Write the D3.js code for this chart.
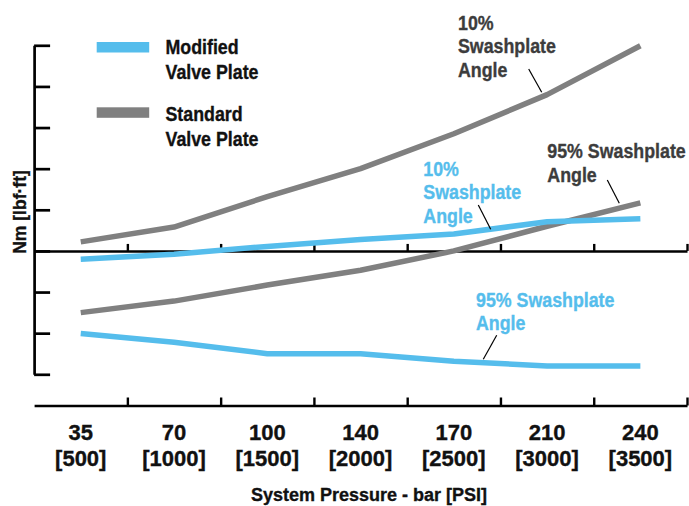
<!DOCTYPE html>
<html>
<head>
<meta charset="utf-8">
<script src="https://cdn.jsdelivr.net/npm/d3@7"></script>
<style>
  html, body { margin: 0; padding: 0; background: #fff; }
  svg { display: block; }
  text { font-family: "Liberation Sans", Arial, Helvetica, sans-serif; font-weight: bold; stroke-width: 0.35px; }
</style>
</head>
<body>
<div id="chart"></div>
<script>
// ---- data ----
const categories = ["35", "70", "100", "140", "170", "210", "240"];
const psiLabels = ["[500]", "[1000]", "[1500]", "[2000]", "[2500]", "[3000]", "[3500]"];
const modified10 = [-0.20, -0.08, 0.11, 0.28, 0.41, 0.71, 0.78];
const modified95 = [-2.01, -2.22, -2.50, -2.50, -2.68, -2.80, -2.80];
const standard10 = [0.22, 0.58, 1.32, 2.00, 2.85, 3.80, 4.99];
const standard95 = [-1.50, -1.22, -0.83, -0.47, 0.00, 0.60, 1.17];
const yTickValues = [-3, -2, -1, 0, 1, 2, 3, 4, 5];
const legendLabels = [["Modified", "Valve Plate"], ["Standard", "Valve Plate"]];
const xTitle = "System Pressure - bar [PSI]";
const yTitle = "Nm [lbf\u00b7ft]";

// ---- styles / layout ----
const W = 689, H = 506;
const BLUE = "#55bdec", GRAY = "#808080", TEXTGRAY = "#3c3c3c";
const plotLeft = 34.1, plotRight = 687, plotTop = 45.3, plotBottom = 374.3;
const NARROW = 0.89;

const svg = d3.select("#chart").append("svg").attr("width", W).attr("height", H);

const x = d3.scaleBand().domain(categories).range([plotLeft, plotRight]).padding(0);
const xEdge = d3.scaleLinear().domain([0, categories.length]).range([plotLeft, plotRight]);
const y = d3.scaleLinear().domain([-3, 5]).range([plotBottom, plotTop]);
const cx = c => x(c) + x.bandwidth() / 2;

// condensed multi-line text helper
function narrowText(px, py, lines, size, fill, lh) {
  const g = svg.append("g").attr("transform", `translate(${px},${py}) scale(${NARROW},1)`);
  g.append("text").attr("fill", fill).attr("stroke", fill).style("font-size", size + "px")
    .selectAll("tspan").data(lines).join("tspan")
    .attr("x", 0).attr("y", (d, j) => j * lh).text(d => d);
}

// y axis
const yAxis = svg.append("g").attr("transform", `translate(${plotLeft},0)`)
  .call(d3.axisRight(y).tickValues(yTickValues).tickSize(16).tickSizeOuter(0).tickFormat(""));
yAxis.selectAll("path,line").attr("stroke", "#000").attr("stroke-width", 2.7);
yAxis.select("path").attr("stroke-linejoin", "miter");

// zero line with upward ticks
const zAxis = svg.append("g").attr("transform", `translate(0,${y(0)})`)
  .call(d3.axisTop(xEdge).tickValues(d3.range(1, categories.length + 1)).tickSize(7).tickSizeOuter(0).tickFormat(""));
zAxis.selectAll("path,line").attr("stroke", "#000").attr("stroke-width", 2.4);

// bottom axis line with upward ticks
const bY = 405.5;
const bAxis = svg.append("g").attr("transform", `translate(0,${bY})`)
  .call(d3.axisTop(xEdge).tickValues(d3.range(1, categories.length + 1)).tickSize(8).tickSizeOuter(0).tickFormat(""));
bAxis.selectAll("path,line").attr("stroke", "#000").attr("stroke-width", 2.4);

// category labels
const lab = svg.append("g").attr("transform", `translate(0,${bY})`)
  .call(d3.axisBottom(x).tickSize(0).tickPadding(0));
lab.select(".domain").remove();
lab.selectAll(".tick text").each(function(d, i) {
  const t = d3.select(this);
  t.text(null).attr("y", 0).attr("dy", null)
    .attr("fill", "#111").attr("stroke", "#111").style("font-size", "22px")
    .style("font-family", '"Liberation Sans", Arial, sans-serif');
  t.append("tspan").attr("x", 0).attr("y", 34).text(d);
  t.append("tspan").attr("x", 0).attr("y", 60.5).text(psiLabels[i]);
});

// titles
svg.append("text").attr("x", 369).attr("y", 501).attr("text-anchor", "middle")
  .style("font-size", "18px").attr("fill", "#111").attr("stroke", "#111").text(xTitle);
svg.append("text").attr("transform", "translate(25.5,212) rotate(-90)").attr("text-anchor", "middle")
  .style("font-size", "17.5px").attr("fill", "#111").attr("stroke", "#111").text(yTitle);

// lines
const line = d3.line().x((d, i) => cx(categories[i])).y(d => y(d));
const series = [
  { v: standard10, c: GRAY }, { v: standard95, c: GRAY },
  { v: modified10, c: BLUE }, { v: modified95, c: BLUE }
];
svg.append("g").selectAll("path").data(series).join("path")
  .attr("d", d => line(d.v)).attr("fill", "none")
  .attr("stroke", d => d.c).attr("stroke-width", 5.5)
  .attr("stroke-linejoin", "round").attr("stroke-linecap", "butt");

// legend
[[BLUE, 42, 54], [GRAY, 107.3, 121.3]].forEach(([col, ry, ty], i) => {
  svg.append("rect").attr("x", 96.7).attr("y", ry).attr("width", 52.5).attr("height", 10.5).attr("fill", col);
  narrowText(165.5, ty, legendLabels[i], 20, "#111", 25);
});

// annotations
const notes = [
  { lines: ["10%", "Swashplate", "Angle"], x: 458, y: 29.5, col: TEXTGRAY, lead: [528.7, 69, 541.7, 92.3] },
  { lines: ["95% Swashplate", "Angle"], x: 547.3, y: 158, col: TEXTGRAY, lead: [607.3, 180, 619.3, 203.3] },
  { lines: ["10%", "Swashplate", "Angle"], x: 423.3, y: 175.5, col: BLUE, lead: [478.3, 205, 490.7, 229.3] },
  { lines: ["95% Swashplate", "Angle"], x: 476, y: 306.5, col: BLUE, lead: [496.7, 335.3, 483.3, 359.3] }
];
notes.forEach(n => {
  narrowText(n.x, n.y, n.lines, 20, n.col, 24);
  svg.append("line").attr("x1", n.lead[0]).attr("y1", n.lead[1]).attr("x2", n.lead[2]).attr("y2", n.lead[3])
    .attr("stroke", "#000").attr("stroke-width", 1.2);
});
</script>
</body>
</html>
